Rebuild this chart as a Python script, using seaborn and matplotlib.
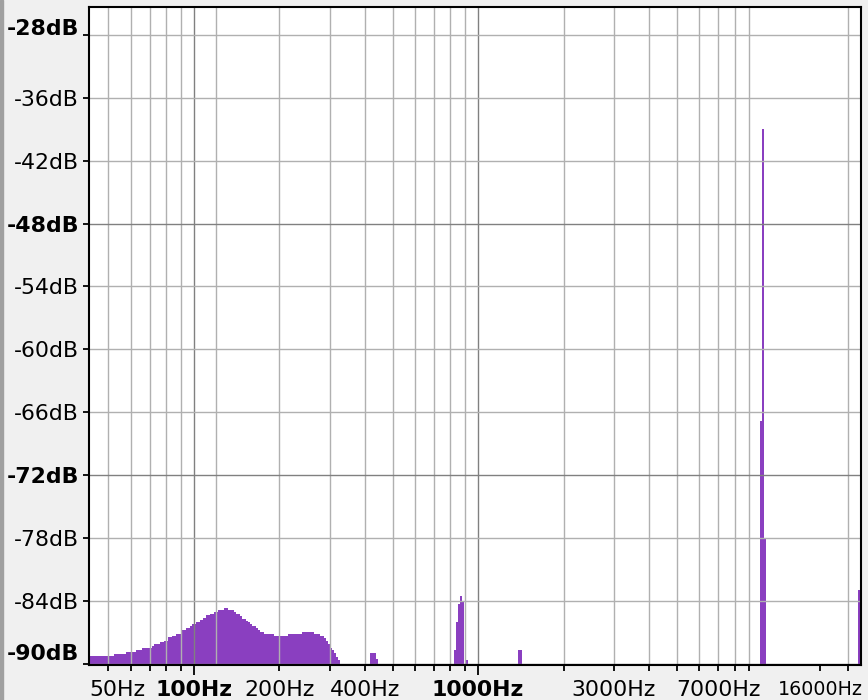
import matplotlib
matplotlib.use("Agg")
import matplotlib.pyplot as plt
import seaborn as sns
from matplotlib.ticker import FixedLocator, FixedFormatter
from matplotlib.transforms import ScaledTranslation
from matplotlib.patches import Rectangle

# spectrum: bin edges (Hz) and level (dB) of each bin
hump_hz = [43, 52.3, 57.6, 62.5, 65.6, 71.1, 72.3, 75.9, 78.6, 81.0,
           83.7, 86.4, 90.7, 93.7, 96.8, 98.4, 101.6, 105.0, 107.3, 110.2,
           113.9, 117.6, 121.8, 127.9, 132.1, 138.3, 140.6, 145.2, 147.6, 152.4,
           154.9, 157.5, 160.1, 165.3, 168.0, 170.8, 176.4, 191.8, 213.8, 240.6,
           264.5, 277.8, 286.9, 291.6, 297.1, 302.0, 306.9, 311.9, 317.0, 322.2,
           326.7]
hump_db = [-89.3, -89.1, -88.9, -88.7, -88.5, -88.3, -88.1, -87.9, -87.8, -87.5,
           -87.35, -87.15, -86.8, -86.6, -86.4, -86.2, -86.0, -85.8, -85.6, -85.4,
           -85.25, -85.05, -84.9, -84.7, -84.9, -85.1, -85.3, -85.5, -85.7, -85.9,
           -86.05, -86.25, -86.4, -86.6, -86.8, -87.0, -87.2, -87.4, -87.2, -87.0,
           -87.2, -87.4, -87.6, -87.8, -88.1, -88.5, -88.7, -89.0, -89.4, -89.7]

p420_hz = [416.6, 437.3, 444.5]
p420_db = [-89.0, -89.6]

p860_hz = [823.2, 836.6, 850.4, 864.3, 878.4, 892.7]
p860_db = [-88.7, -86.0, -84.3, -83.5, -84.1]

p915_hz = [907.4, 922.2]
p915_db = [-89.65]

p1400_hz = [1383, 1429]
p1400_db = [-88.7]

p10k_hz = [9839, 10000, 10164, 10330]
p10k_db = [-66.8, -38.95, -78.0]

p22k_hz = [21830, 22240]
p22k_db = [-83.0]

segments = [(hump_hz, hump_db), (p420_hz, p420_db), (p860_hz, p860_db),
            (p915_hz, p915_db), (p1400_hz, p1400_db), (p10k_hz, p10k_db),
            (p22k_hz, p22k_db)]

# axes text
db_ticks = [-30, -36, -42, -48, -54, -60, -66, -72, -78, -84, -90]
db_labels = ["-28dB", "-36dB", "-42dB", "-48dB", "-54dB", "-60dB",
             "-66dB", "-72dB", "-78dB", "-84dB", "-90dB"]
db_bold = ["-28dB", "-48dB", "-72dB", "-90dB"]
db_major = [-48, -72, -90]

hz_major = [100, 1000]
hz_major_labels = ["100Hz", "1000Hz"]
hz_minor = [50, 60, 70, 80, 90, 200, 300, 400, 500, 600, 700, 800, 900,
            2000, 3000, 4000, 5000, 6000, 7000, 8000, 9000, 16000, 20000]
hz_minor_labels = ["50Hz", "", "", "", "", "200Hz", "", "400Hz", "", "", "", "", "",
                   "", "3000Hz", "", "", "", "7000Hz", "", "", "16000Hz", ""]
hz_grid = [50, 60, 70, 80, 90, 100, 120, 200, 300, 400, 500, 600, 700, 800, 900,
           1000, 2000, 3000, 4000, 5000, 6000, 7000, 8000, 9000, 20000]

PURPLE = "#8a3fc0"
LIGHT = "#b0b0b0"
DARK = "#808080"
FLOOR = -100

sns.set_theme(style="ticks")
plt.rcParams["font.family"] = ["DejaVu Sans"]

fig = plt.figure(figsize=(8.68, 7.0), dpi=100, facecolor="#f0f0f0")
fig.patches.append(Rectangle((0, 0), 3 / 868, 1, transform=fig.transFigure,
                             color="#a0a0a0", zorder=0))
ax = fig.add_axes([0.1029, 0.0497, 0.8886, 0.9399])
ax.set_facecolor("white")
ax.set_xscale("log")
ax.set_xlim(42.8, 22240)
ax.set_ylim(-90.15, -27.35)

for edges, levels in segments:
    ax.fill_between(edges, levels + [levels[-1]], FLOOR, step="post",
                    color=PURPLE, linewidth=0, zorder=1)

for f in hz_grid:
    ax.axvline(f, color=DARK if f in hz_major else LIGHT, lw=1.0, zorder=2)
for d in db_ticks:
    ax.axhline(d, color=DARK if d in db_major else LIGHT, lw=1.0, zorder=2)

ax.xaxis.set_major_locator(FixedLocator(hz_major))
ax.xaxis.set_major_formatter(FixedFormatter(hz_major_labels))
ax.xaxis.set_minor_locator(FixedLocator(hz_minor))
ax.xaxis.set_minor_formatter(FixedFormatter(hz_minor_labels))
ax.set_yticks(db_ticks)
ax.set_yticklabels(db_labels)

ax.tick_params(axis="x", which="major", length=7.5, width=1.3, pad=3.5,
               labelsize=15.8, color="black", labelcolor="black")
ax.tick_params(axis="x", which="minor", length=4.5, width=1.3, pad=6.5,
               labelsize=15.8, color="black", labelcolor="black")
ax.tick_params(axis="y", length=4, width=1.3, pad=3.5,
               labelsize=15.8, color="black", labelcolor="black")

for lbl in ax.get_xticklabels():
    lbl.set_fontweight("bold")
for lbl in ax.get_xticklabels(minor=True):
    if lbl.get_text() == "16000Hz":
        lbl.set_fontsize(13.7)
    if lbl.get_text() == "50Hz":
        lbl.set_transform(lbl.get_transform()
                          + ScaledTranslation(0.09, 0, fig.dpi_scale_trans))

ylbls = ax.get_yticklabels()
for lbl in ylbls:
    if lbl.get_text() in db_bold:
        lbl.set_fontweight("bold")
ylbls[0].set_verticalalignment("baseline")
ylbls[-1].set_verticalalignment("bottom")

for s in ax.spines.values():
    s.set_color("black")
    s.set_linewidth(1.5)
    s.set_zorder(3)

fig.savefig("out.png", dpi=100, facecolor=fig.get_facecolor())
